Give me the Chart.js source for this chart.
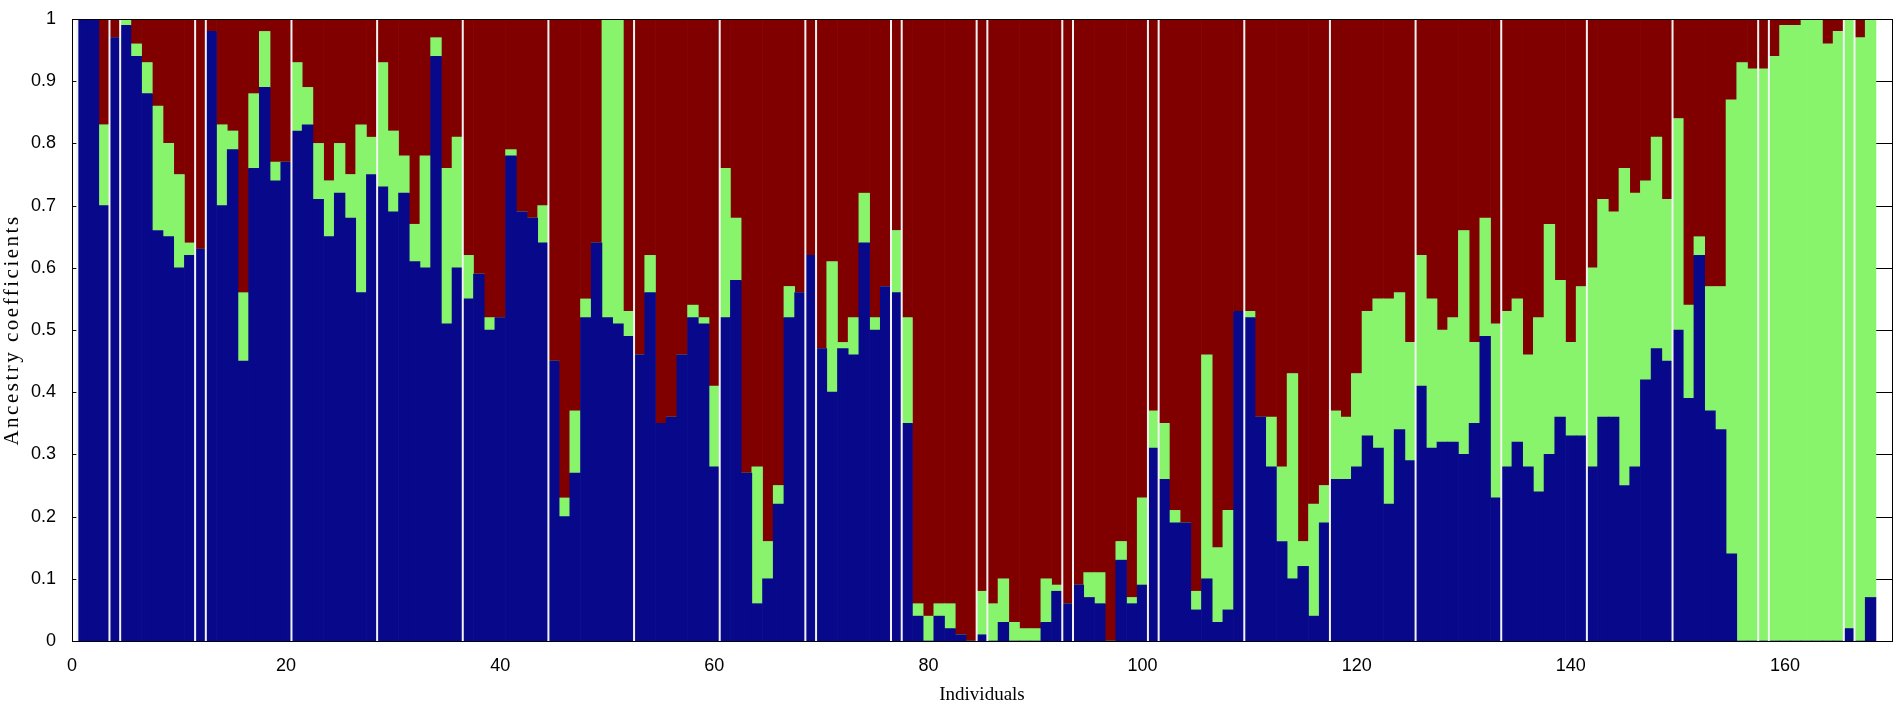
<!DOCTYPE html>
<html lang="en">
<head>
    <meta charset="UTF-8">
    <title>Ancestry coefficients</title>
    <script src="https://cdn.jsdelivr.net/npm/chart.js"></script>
    <style>
        body { margin: 0; background: #fff; }
        canvas { display: block; }
    </style>
</head>
<body>
    <canvas id="myChart" width="1895" height="706"></canvas>

    <script>
        // individuals 1..168
        const individuals = Array.from({ length: 168 }, (_, i) => i + 1);

        // ancestry coefficient for each cluster
        const blueShare = [
            1.00, 1.00, 0.70, 0.97, 0.99, 0.94, 0.88, 0.66, 0.65, 0.60,
            0.62, 0.63, 0.98, 0.70, 0.79, 0.45, 0.76, 0.89, 0.74, 0.77,
            0.82, 0.83, 0.71, 0.65, 0.72, 0.68, 0.56, 0.75, 0.73, 0.69,
            0.72, 0.61, 0.60, 0.94, 0.51, 0.60, 0.55, 0.59, 0.50, 0.52,
            0.78, 0.69, 0.68, 0.64, 0.45, 0.20, 0.27, 0.52, 0.64, 0.52,
            0.51, 0.49, 0.46, 0.56, 0.35, 0.36, 0.46, 0.52, 0.51, 0.28,
            0.52, 0.58, 0.27, 0.06, 0.10, 0.22, 0.52, 0.56, 0.62, 0.47,
            0.40, 0.47, 0.46, 0.64, 0.50, 0.57, 0.56, 0.35, 0.04, 0.00,
            0.04, 0.02, 0.01, 0.00, 0.01, 0.00, 0.03, 0.00, 0.00, 0.00,
            0.03, 0.08, 0.06, 0.09, 0.07, 0.06, 0.00, 0.13, 0.06, 0.09,
            0.31, 0.26, 0.19, 0.19, 0.05, 0.10, 0.03, 0.05, 0.53, 0.52,
            0.36, 0.28, 0.16, 0.10, 0.12, 0.04, 0.19, 0.26, 0.26, 0.28,
            0.33, 0.31, 0.22, 0.34, 0.29, 0.41, 0.31, 0.32, 0.32, 0.30,
            0.35, 0.49, 0.23, 0.28, 0.32, 0.28, 0.24, 0.30, 0.36, 0.33,
            0.33, 0.28, 0.36, 0.36, 0.25, 0.28, 0.42, 0.47, 0.45, 0.50,
            0.39, 0.62, 0.37, 0.34, 0.14, 0.00, 0.00, 0.00, 0.00, 0.00,
            0.00, 0.00, 0.00, 0.00, 0.00, 0.02, 0.00, 0.07
        ];
        const greenShare = [
            0.00, 0.00, 0.13, 0.00, 0.01, 0.02, 0.05, 0.20, 0.15, 0.15,
            0.02, 0.00, 0.00, 0.13, 0.03, 0.11, 0.12, 0.09, 0.03, 0.00,
            0.11, 0.06, 0.09, 0.09, 0.08, 0.07, 0.27, 0.06, 0.20, 0.13,
            0.06, 0.06, 0.18, 0.03, 0.25, 0.21, 0.07, 0.00, 0.02, 0.00,
            0.01, 0.00, 0.00, 0.06, 0.00, 0.03, 0.10, 0.03, 0.00, 0.48,
            0.49, 0.04, 0.00, 0.06, 0.00, 0.00, 0.00, 0.02, 0.01, 0.13,
            0.24, 0.10, 0.00, 0.22, 0.06, 0.03, 0.05, 0.00, 0.00, 0.00,
            0.21, 0.01, 0.06, 0.08, 0.02, 0.00, 0.10, 0.17, 0.02, 0.04,
            0.02, 0.04, 0.00, 0.00, 0.07, 0.06, 0.07, 0.03, 0.02, 0.02,
            0.07, 0.01, 0.00, 0.00, 0.04, 0.05, 0.00, 0.03, 0.01, 0.14,
            0.06, 0.09, 0.02, 0.00, 0.03, 0.36, 0.12, 0.16, 0.00, 0.01,
            0.00, 0.08, 0.12, 0.33, 0.04, 0.18, 0.06, 0.11, 0.10, 0.15,
            0.20, 0.24, 0.33, 0.22, 0.19, 0.21, 0.24, 0.18, 0.20, 0.36,
            0.13, 0.19, 0.28, 0.25, 0.23, 0.18, 0.28, 0.37, 0.22, 0.15,
            0.24, 0.32, 0.35, 0.33, 0.51, 0.44, 0.32, 0.34, 0.26, 0.34,
            0.15, 0.03, 0.20, 0.23, 0.73, 0.93, 0.92, 0.92, 0.94, 0.99,
            0.99, 1.00, 1.00, 0.96, 0.98, 0.98, 0.97, 0.93
        ];
        const redShare = [
            0.00, 0.00, 0.17, 0.03, 0.00, 0.04, 0.07, 0.14, 0.20, 0.25,
            0.36, 0.37, 0.02, 0.17, 0.18, 0.44, 0.12, 0.02, 0.23, 0.23,
            0.07, 0.11, 0.20, 0.26, 0.20, 0.25, 0.17, 0.19, 0.07, 0.18,
            0.22, 0.33, 0.22, 0.03, 0.24, 0.19, 0.38, 0.41, 0.48, 0.48,
            0.21, 0.31, 0.32, 0.30, 0.55, 0.77, 0.63, 0.45, 0.36, 0.00,
            0.00, 0.47, 0.54, 0.38, 0.65, 0.64, 0.54, 0.46, 0.48, 0.59,
            0.24, 0.32, 0.73, 0.72, 0.84, 0.75, 0.43, 0.44, 0.38, 0.53,
            0.39, 0.52, 0.48, 0.28, 0.48, 0.43, 0.34, 0.48, 0.94, 0.96,
            0.94, 0.94, 0.99, 1.00, 0.92, 0.94, 0.90, 0.97, 0.98, 0.98,
            0.90, 0.91, 0.94, 0.91, 0.89, 0.89, 1.00, 0.84, 0.93, 0.77,
            0.63, 0.65, 0.79, 0.81, 0.92, 0.54, 0.85, 0.79, 0.47, 0.47,
            0.64, 0.64, 0.72, 0.57, 0.84, 0.78, 0.75, 0.63, 0.64, 0.57,
            0.47, 0.45, 0.45, 0.44, 0.52, 0.38, 0.45, 0.50, 0.48, 0.34,
            0.52, 0.32, 0.49, 0.47, 0.45, 0.54, 0.48, 0.33, 0.42, 0.52,
            0.43, 0.40, 0.29, 0.31, 0.24, 0.28, 0.26, 0.19, 0.29, 0.16,
            0.46, 0.35, 0.43, 0.43, 0.13, 0.07, 0.08, 0.08, 0.06, 0.01,
            0.01, 0.00, 0.00, 0.04, 0.02, 0.00, 0.03, 0.00
        ];

        // white lines between sampling groups (x positions)
        const groupBreaks = [
            0.5, 3.5, 4.5, 11.5, 12.5, 20.5, 28.5, 36.5, 44.5, 52.5,
            60.5, 68.5, 69.5, 76.5, 77.5, 84.5, 85.5, 92.5, 93.5, 100.5,
            101.5, 109.5, 117.5, 125.5, 133.5, 141.5, 149.5, 157.5, 158.5,
            165.5, 166.5
        ];

        const toPoints = (vals) => vals.map((v, i) => ({ x: individuals[i], y: v }));

        // matlab-like inward ticks, drawn under the bars
        const axisTicks = {
            id: 'axisTicks',
            beforeDatasetsDraw(chart) {
                const { ctx, chartArea: a, scales: { x, y } } = chart;
                const len = 16;
                ctx.save();
                ctx.strokeStyle = '#000';
                ctx.lineWidth = 1;
                ctx.beginPath();
                y.ticks.forEach(t => {
                    const py = Math.round(y.getPixelForValue(t.value)) + 0.5;
                    ctx.moveTo(a.left, py); ctx.lineTo(a.left + len, py);
                    ctx.moveTo(a.right, py); ctx.lineTo(a.right - len, py);
                });
                x.ticks.forEach(t => {
                    const px = Math.round(x.getPixelForValue(t.value)) + 0.5;
                    ctx.moveTo(px, a.bottom); ctx.lineTo(px, a.bottom - len);
                    ctx.moveTo(px, a.top); ctx.lineTo(px, a.top + len);
                });
                ctx.stroke();
                ctx.restore();
            }
        };

        // group separators + axes box + y label (spaced out like the original)
        const groupLines = {
            id: 'groupLines',
            afterDatasetsDraw(chart) {
                const { ctx, chartArea: a, scales: { x } } = chart;
                ctx.save();
                ctx.fillStyle = '#f2f2f2';
                groupBreaks.forEach(b => {
                    const px = x.getPixelForValue(b);
                    ctx.fillRect(px - 1, a.top, 2, a.bottom - a.top);
                });
                ctx.strokeStyle = '#000';
                ctx.lineWidth = 1;
                ctx.strokeRect(Math.round(a.left) + 0.5, Math.round(a.top) + 0.5,
                    Math.round(a.right - a.left), Math.round(a.bottom - a.top));
                ctx.restore();
            },
            afterDraw(chart) {
                const { ctx, chartArea: a } = chart;
                ctx.save();
                ctx.translate(12, (a.top + a.bottom) / 2);
                ctx.rotate(-Math.PI / 2);
                ctx.font = '21px "Liberation Serif"';
                ctx.letterSpacing = '2.5px';
                ctx.fillStyle = '#000';
                ctx.textAlign = 'center';
                ctx.textBaseline = 'middle';
                ctx.fillText('Ancestry coefficients', 0, 0);
                ctx.restore();
            }
        };

        const tickFont = { family: 'Liberation Sans', size: 18 };

        new Chart(document.getElementById('myChart'), {
            type: 'bar',
            data: {
                datasets: [
                    { label: 'K1', data: toPoints(blueShare), backgroundColor: '#07098a' },
                    { label: 'K2', data: toPoints(greenShare), backgroundColor: '#88f46c' },
                    { label: 'K3', data: toPoints(redShare), backgroundColor: '#800000' }
                ]
            },
            options: {
                responsive: false,
                animation: false,
                devicePixelRatio: 1,
                layout: { padding: { top: 19, right: 3, left: 0, bottom: 0 } },
                datasets: {
                    bar: { barPercentage: 1, categoryPercentage: 1, borderWidth: 0 }
                },
                plugins: {
                    legend: { display: false },
                    tooltip: { enabled: false }
                },
                scales: {
                    x: {
                        type: 'linear',
                        stacked: true,
                        offset: false,
                        min: 0,
                        max: 170,
                        ticks: { stepSize: 20, color: '#000', font: tickFont, padding: 6, maxRotation: 0 },
                        afterBuildTicks(scale) { scale.ticks = scale.ticks.filter(t => t.value <= 160); },
                        grid: { display: false },
                        border: { display: false },
                        title: { display: true, text: 'Individuals', color: '#000',
                                 font: { family: 'Liberation Serif', size: 19 }, padding: { top: 0, bottom: 0 } },
                        afterFit(scale) { scale.height = 65; }
                    },
                    y: {
                        stacked: true,
                        min: 0,
                        max: 1,
                        ticks: {
                            stepSize: 0.1,
                            color: '#000',
                            font: tickFont,
                            padding: 8,
                            callback: (v) => String(Number(v.toFixed(1)))
                        },
                        grid: { display: false },
                        border: { display: false },
                        afterFit(scale) { scale.width = 72; }
                    }
                }
            },
            plugins: [axisTicks, groupLines]
        });
    </script>
</body>
</html>
